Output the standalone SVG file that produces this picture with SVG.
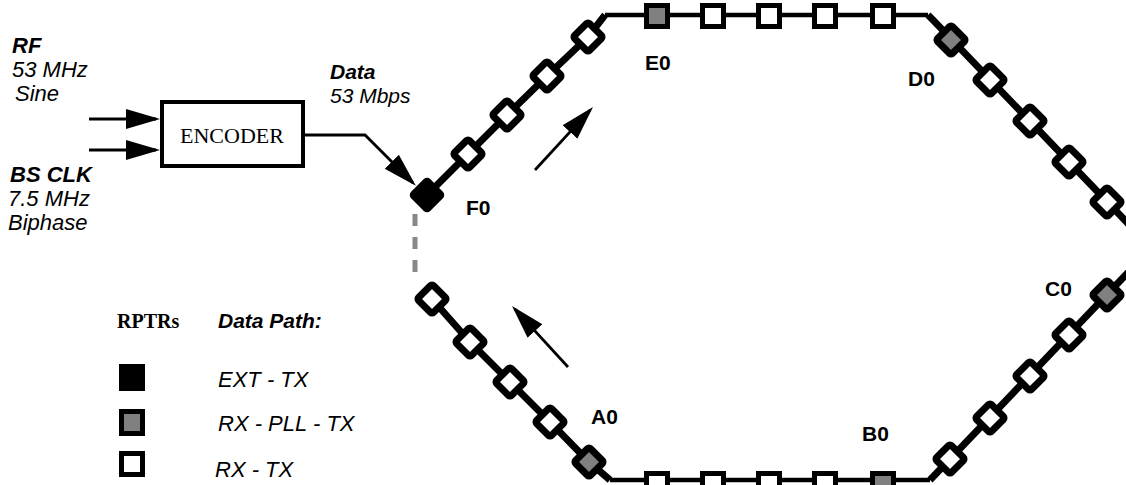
<svg xmlns="http://www.w3.org/2000/svg" width="1126" height="485" viewBox="0 0 1126 485">
<style>
.sans{font-family:"Liberation Sans",Arial,sans-serif;font-size:21px;fill:#000}
.lg{font-size:22px}
.it{font-style:italic}
.b{font-weight:bold}
.serif{font-family:"Liberation Serif","Times New Roman",serif;font-size:22px;fill:#000}
.conn{fill:none;stroke:#000;stroke-width:2.8}
.ringD{fill:none;stroke:#000;stroke-width:7;stroke-linejoin:round}
.ringH{fill:none;stroke:#000;stroke-width:4.5}
.dia{stroke:#000;stroke-width:7;stroke-linejoin:round}
.sq{stroke:#000;stroke-width:5}
.w{fill:#fff}
.g{fill:#808080}
.k{fill:#000}
</style>
<defs>
<marker id="ah" markerUnits="userSpaceOnUse" markerWidth="36" markerHeight="22" viewBox="0 0 36 22" refX="30" refY="11" orient="auto">
<path d="M0,1 L34,11 L0,21 z" fill="#000"/>
</marker>
<rect id="d" x="-10.5" y="-10.5" width="21" height="21" rx="2" transform="rotate(45)"/>
<rect id="s" x="-10.5" y="-10.5" width="21" height="21"/>
</defs>

<g id="labels-input">
<text class="sans lg it b" x="12" y="53">RF</text>
<text class="sans lg it" x="12" y="77">53 MHz</text>
<text class="sans lg it" x="15" y="101">Sine</text>
<text class="sans lg it b" x="10" y="182">BS CLK</text>
<text class="sans lg it" x="8" y="206">7.5 MHz</text>
<text class="sans lg it" x="8" y="230">Biphase</text>
<text class="sans it b" x="330" y="79">Data</text>
<text class="sans it" x="330" y="103">53 Mbps</text>
</g>

<g id="encoder">
<rect x="162" y="102" width="141" height="64" fill="#fff" stroke="#000" stroke-width="4"/>
<text class="serif" x="232" y="143" text-anchor="middle">ENCODER</text>
</g>

<g id="connectors">
<path class="conn" d="M89,119 L156,119" marker-end="url(#ah)"/>
<path class="conn" d="M89,150 L156,150" marker-end="url(#ah)"/>
<path class="conn" d="M305,135 L365,135 L413,183" marker-end="url(#ah)"/>
<path class="conn" d="M535,170 L590.3,109.9" marker-end="url(#ah)"/>
<path class="conn" d="M568,367 L514.7,308.9" marker-end="url(#ah)"/>
<path d="M415,214 L415,278" fill="none" stroke="#888" stroke-width="5" stroke-dasharray="12 11"/>
</g>

<g id="ring">
<path class="ringD" d="M427,195 L468,154 L507,115 L547,76 L588,37 L605,15"/>
<path class="ringH" d="M605,15 L928,15"/>
<path class="ringD" d="M928,15 L933,20 L1140,236"/>
<path class="ringD" d="M1140,260 L930,480"/>
<path class="ringH" d="M610,480 L930,480"/>
<path class="ringD" d="M432,299 L470,342 L510,382 L550,422 L589,462 L610,480"/>
</g>

<g id="F0">
<rect x="-11" y="-11" width="22" height="22" rx="2" transform="translate(427,195) rotate(45)" fill="#000" stroke="#000" stroke-width="5" stroke-linejoin="round"/>
<text class="sans b" x="466" y="215">F0</text>
</g>

<g id="rptrs-FE">
<use href="#d" class="dia w" x="468" y="154"/>
<use href="#d" class="dia w" x="507" y="115"/>
<use href="#d" class="dia w" x="547" y="76"/>
<use href="#d" class="dia w" x="588" y="37"/>
</g>

<g id="E0">
<use href="#s" class="sq g" x="657" y="16"/>
<text class="sans b" x="645" y="70">E0</text>
</g>
<g id="rptrs-ED">
<use href="#s" class="sq w" x="713" y="16"/>
<use href="#s" class="sq w" x="769" y="16"/>
<use href="#s" class="sq w" x="825" y="16"/>
<use href="#s" class="sq w" x="883" y="16"/>
</g>

<g id="D0">
<use href="#d" class="dia g" x="951" y="40"/>
<text class="sans b" x="908" y="86">D0</text>
</g>
<g id="rptrs-DC">
<use href="#d" class="dia w" x="990" y="80"/>
<use href="#d" class="dia w" x="1030" y="121"/>
<use href="#d" class="dia w" x="1069" y="162"/>
<use href="#d" class="dia w" x="1107" y="202"/>
</g>

<g id="C0">
<use href="#d" class="dia g" x="1107" y="295"/>
<text class="sans b" x="1045" y="296">C0</text>
</g>
<g id="rptrs-CB">
<use href="#d" class="dia w" x="1069" y="335"/>
<use href="#d" class="dia w" x="1030" y="376"/>
<use href="#d" class="dia w" x="990" y="418"/>
<use href="#d" class="dia w" x="950" y="459"/>
</g>

<g id="B0">
<use href="#s" class="sq g" x="883" y="484"/>
<text class="sans b" x="862" y="441">B0</text>
</g>
<g id="rptrs-BA">
<use href="#s" class="sq w" x="825" y="484"/>
<use href="#s" class="sq w" x="769" y="484"/>
<use href="#s" class="sq w" x="713" y="484"/>
<use href="#s" class="sq w" x="657" y="484"/>
</g>

<g id="A0">
<use href="#d" class="dia g" x="589" y="462"/>
<text class="sans b" x="591" y="424">A0</text>
</g>
<g id="rptrs-AF">
<use href="#d" class="dia w" x="550" y="422"/>
<use href="#d" class="dia w" x="510" y="382"/>
<use href="#d" class="dia w" x="470" y="342"/>
<use href="#d" class="dia w" x="432" y="299"/>
</g>

<g id="legend">
<text class="serif b" x="117" y="328" style="font-size:20px">RPTRs</text>
<text class="sans it b" x="218" y="328">Data Path:</text>
<rect x="119" y="364" width="26" height="27" fill="#000"/>
<rect x="121.5" y="411.5" width="21" height="22" fill="#808080" stroke="#000" stroke-width="5"/>
<rect x="121.5" y="453.5" width="21" height="21" fill="#fff" stroke="#000" stroke-width="5"/>
<text class="sans lg it" x="218" y="387">EXT - TX</text>
<text class="sans lg it" x="218" y="431">RX - PLL - TX</text>
<text class="sans lg it" x="215" y="477">RX - TX</text>
</g>
</svg>
